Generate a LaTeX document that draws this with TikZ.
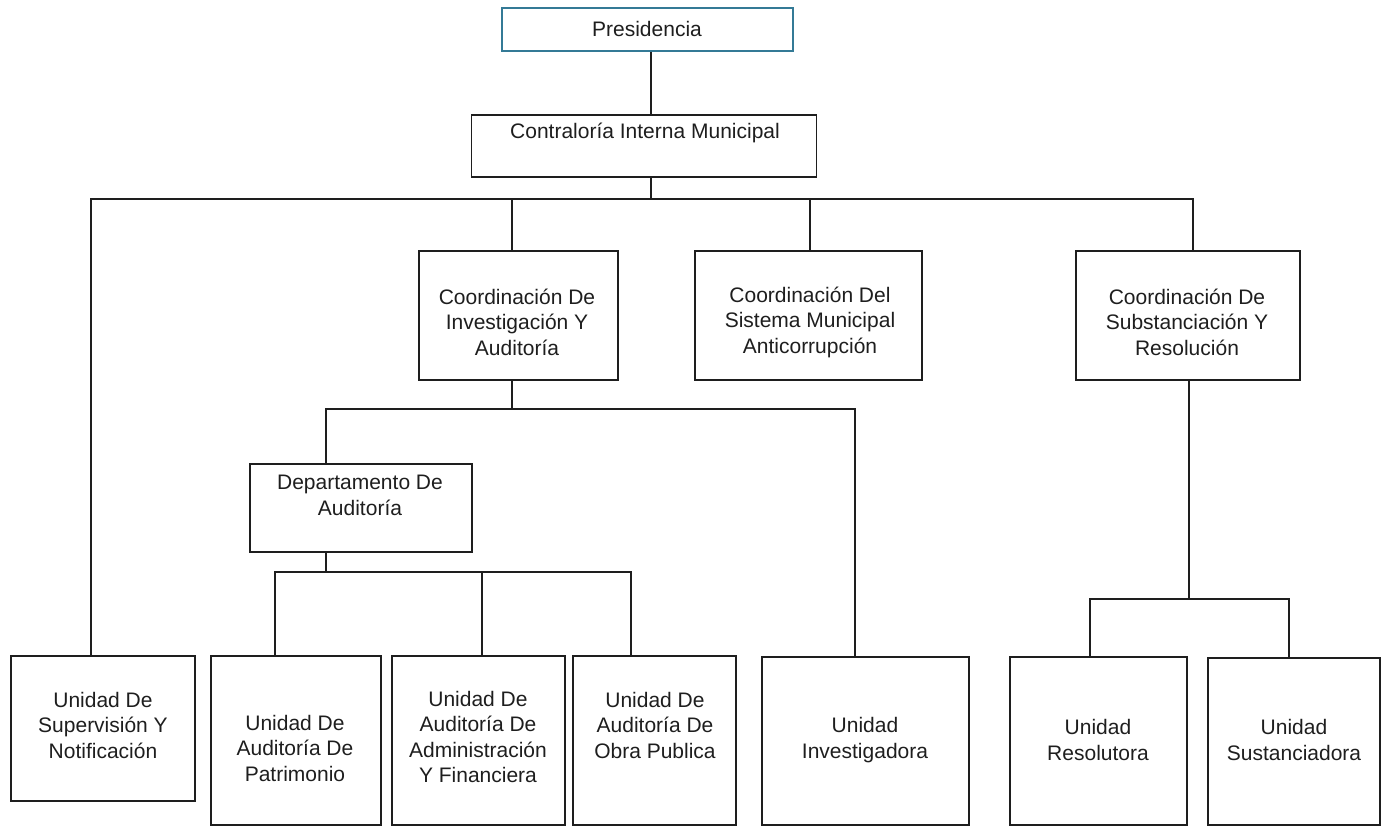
\documentclass[tikz,border=0pt]{standalone}
\usepackage{fontspec}
\setmainfont{Liberation Sans}
\definecolor{tealb}{RGB}{52,122,150}
\definecolor{ink}{RGB}{30,30,30}
\begin{document}
\begin{tikzpicture}[x=1pt,y=-1pt,
  box/.style={draw=ink,line width=1.5pt,inner sep=0pt,rectangle},
  lbl/.style={text=ink,align=center,inner sep=0pt,font=\fontsize{21}{25.5}\selectfont},
  conn/.style={draw=ink,line width=1.5pt}]
\useasboundingbox (0,0) rectangle (1383,827);
% boxes (center x, center y, width, height)
\node[box,draw=tealb,minimum width=291pt,minimum height=43pt] (pres) at (647.5,29.5) {};
\node[box,minimum width=345pt,minimum height=62pt] (contra) at (644,146) {};
\node[box,minimum width=199pt,minimum height=129pt] (ci) at (518.5,315.5) {};
\node[box,minimum width=227pt,minimum height=129pt] (csm) at (808.5,315.5) {};
\node[box,minimum width=224pt,minimum height=129pt] (cs) at (1188,315.5) {};
\node[box,minimum width=222pt,minimum height=88pt] (dep) at (361,508) {};
\node[box,minimum width=184pt,minimum height=145pt] (sup) at (103,728.5) {};
\node[box,minimum width=170pt,minimum height=169pt] (pat) at (296,740.5) {};
\node[box,minimum width=173pt,minimum height=169pt] (adm) at (478.5,740.5) {};
\node[box,minimum width=163pt,minimum height=169pt] (obra) at (654.5,740.5) {};
\node[box,minimum width=207pt,minimum height=168pt] (inv) at (865.5,741) {};
\node[box,minimum width=177pt,minimum height=168pt] (res) at (1098.5,741) {};
\node[box,minimum width=172pt,minimum height=167pt] (sus) at (1294,741.5) {};
% labels
\node[lbl] (tpres) at (647,29) {Presidencia};
\node[lbl] (tcontra) at (645,133) {Contraloría Interna Municipal};
\node[lbl] (tci) at (517,322) {Coordinación De\\Investigación Y\\Auditoría};
\node[lbl] (tcsm) at (810,322) {Coordinación Del\\Sistema Municipal\\Anticorrupción};
\node[lbl] (tcs) at (1187,322) {Coordinación De\\Substanciación Y\\Resolución};
\node[lbl] (tdep) at (360,495.5) {Departamento De\\Auditoría};
\node[lbl] (tsup) at (103,725) {Unidad De\\Supervisión Y\\Notificación};
\node[lbl] (tpat) at (295,748) {Unidad De\\Auditoría De\\Patrimonio};
\node[lbl] (tadm) at (478,737) {Unidad De\\Auditoría De\\Administración\\Y Financiera};
\node[lbl] (tobra) at (655,725) {Unidad De\\Auditoría De\\Obra Publica};
\node[lbl] (tinv) at (865,740) {Unidad\\Investigadora};
\node[lbl] (tres) at (1098,740) {Unidad\\Resolutora};
\node[lbl] (tsus) at (1294,740) {Unidad\\Sustanciadora};
% junctions
\coordinate (j1) at (651,199);
\coordinate (j2) at (512,409);
\coordinate (j3) at (326,572);
\coordinate (j4) at (1189,599);
% connectors
\draw[conn] (pres.south -| j1) -- (contra.north -| j1);
\draw[conn] (contra.south -| j1) -- (j1);
\draw[conn] ([xshift=-12pt]sup.north) |- (j1) -| ([xshift=5pt]cs.north);
\draw[conn] ([xshift=-6.5pt]ci.north) -- ([xshift=-6.5pt]ci.north |- j1);
\draw[conn] ([xshift=1.5pt]csm.north) -- ([xshift=1.5pt]csm.north |- j1);
\draw[conn] ([xshift=-6.5pt]ci.south) -- (j2);
\draw[conn] ([xshift=-35pt]dep.north) |- (j2) -| ([xshift=-10.5pt]inv.north);
\draw[conn] ([xshift=-35pt]dep.south) -- (j3);
\draw[conn] ([xshift=-21pt]pat.north) |- (j3) -| ([xshift=-23.5pt]obra.north);
\draw[conn] ([xshift=3.5pt]adm.north) -- ([xshift=3.5pt]adm.north |- j3);
\draw[conn] ([xshift=1pt]cs.south) -- (j4);
\draw[conn] ([xshift=-8.5pt]res.north) |- (j4) -| ([xshift=-5pt]sus.north);
\end{tikzpicture}
\end{document}
